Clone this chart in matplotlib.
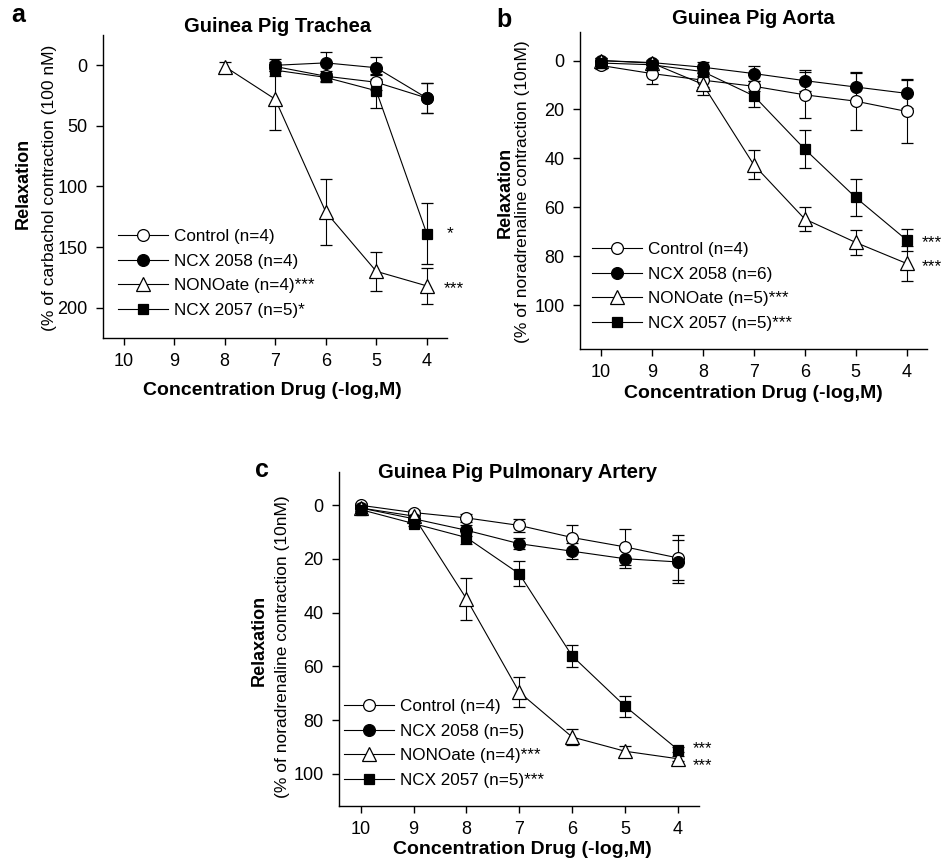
import matplotlib
matplotlib.use('Agg')
import matplotlib.pyplot as plt
from matplotlib.lines import Line2D

plt.rcParams['font.family'] = ['Liberation Sans', 'DejaVu Sans']

W, H = 943, 861

# ---------------- data ----------------
conc_all = [10, 9, 8, 7, 6, 5, 4]
xtick_labels = ['10', '9', '8', '7', '6', '5', '4']

# Panel a: Guinea Pig Trachea
a_x_control = [7, 6, 5, 4]
a_control = [1, 9, 14, 27]
a_control_err = [4, 4, 6, 12]
a_x_2058 = [7, 6, 5, 4]
a_2058 = [0, -2, 2, 27]
a_2058_err = [5, 9, 9, 12]
a_x_nono = [8, 7, 6, 5, 4]
a_nono = [1, 28, 121, 170, 182]
a_nono_err = [4, 25, 27, 16, 15]
a_x_2057 = [7, 6, 5, 4]
a_2057 = [4, 10, 21, 139]
a_2057_err = [5, 4, 14, 25]
a_labels = ['Control (n=4)', 'NCX 2058 (n=4)', 'NONOate (n=4)***', 'NCX 2057 (n=5)*']

# Panel b: Guinea Pig Aorta
b_control = [2, 5.3, 8, 10.5, 14, 16.6, 20.8]
b_control_err = [1.5, 4.4, 3, 2, 9.4, 12, 13]
b_2058 = [0, 0.8, 2.7, 5.3, 8.2, 10.8, 13.4]
b_2058_err = [1, 1, 2, 3, 4.2, 5.8, 6]
b_nono = [0, 1, 9.7, 42.6, 64.8, 74.4, 83]
b_nono_err = [1, 1, 4.5, 6, 5, 5, 7.3]
b_2057 = [1, 1.7, 4.5, 14.4, 36.2, 56, 73.4]
b_2057_err = [1, 1, 2, 4.7, 7.7, 7.5, 4.7]
b_labels = ['Control (n=4)', 'NCX 2058 (n=6)', 'NONOate (n=5)***', 'NCX 2057 (n=5)***']

# Panel c: Guinea Pig Pulmonary Artery
c_control = [0, 2.7, 4.7, 7.5, 12, 15.5, 19.6]
c_control_err = [1, 1, 1.5, 2.5, 4.8, 6.8, 8.4]
c_2058 = [1, 5, 9.3, 14.3, 17.1, 19.9, 21.1]
c_2058_err = [1, 1, 2, 2, 3, 3.5, 8]
c_nono = [1, 4, 34.8, 69.6, 86.3, 91.6, 94.4]
c_nono_err = [1, 1, 7.8, 5.5, 2.8, 2, 1]
c_2057 = [1.6, 6.8, 12, 25.5, 56.1, 74.8, 91]
c_2057_err = [1, 1, 2.5, 4.7, 4, 3.9, 1]
c_labels = ['Control (n=4)', 'NCX 2058 (n=5)', 'NONOate (n=4)***', 'NCX 2057 (n=5)***']

# ---------------- styles ----------------
styles = [
    dict(marker='o', mfc='white', mec='black', ms=8.5),
    dict(marker='o', mfc='black', mec='black', ms=8.5),
    dict(marker='^', mfc='white', mec='black', ms=9.5),
    dict(marker='s', mfc='black', mec='black', ms=7.5),
]

fig = plt.figure(figsize=(W / 100, H / 100), dpi=100)


def rect(l, t, r, b):
    return [l / W, 1 - b / H, (r - l) / W, (b - t) / H]


def fpos(x, y):
    return (x / W, 1 - y / H)


def draw(ax, series, labels, ylim, yticks, leg_xy):
    for (x, y, e), st in zip(series, styles):
        ax.errorbar(x, y, yerr=e, color='black', lw=0.8, elinewidth=0.8,
                    capsize=4.5, capthick=0.8, mew=0.9, zorder=3, **st)
    ax.set_xlim(10.41, 3.6)
    ax.set_ylim(ylim[1], ylim[0])
    ax.set_xticks(conc_all)
    ax.set_xticklabels(xtick_labels)
    ax.set_yticks(yticks)
    for s in ['top', 'right']:
        ax.spines[s].set_visible(False)
    for s in ['left', 'bottom']:
        ax.spines[s].set_linewidth(1.0)
    ax.tick_params(direction='out', length=5, width=1.0, labelsize=13, pad=6)
    handles = [Line2D([], [], color='black', lw=0.8, mew=0.9, **st) for st in styles]
    ax.legend(handles, labels, loc='upper left', bbox_to_anchor=fpos(*leg_xy),
              bbox_transform=fig.transFigure, frameon=False, fontsize=12.3,
              handlelength=2.9, handletextpad=0.35, labelspacing=0.56,
              borderpad=0, borderaxespad=0, numpoints=1)


# Panel a
ax_a = fig.add_axes(rect(103, 35, 447, 338))
draw(ax_a,
     [(a_x_control, a_control, a_control_err), (a_x_2058, a_2058, a_2058_err),
      (a_x_nono, a_nono, a_nono_err), (a_x_2057, a_2057, a_2057_err)],
     a_labels, (-25, 225), [0, 50, 100, 150, 200], (118, 229))
ax_a.annotate('*', (4, a_2057[-1]), xytext=(14, 0), textcoords='offset points',
              fontsize=12.5, va='center', ha='left', annotation_clip=False)
ax_a.annotate('***', (4, a_nono[-1]), xytext=(12, -2), textcoords='offset points',
              fontsize=12.5, va='center', ha='left', annotation_clip=False)

# Panel b
ax_b = fig.add_axes(rect(580, 32, 927, 349))
draw(ax_b,
     [(conc_all, b_control, b_control_err), (conc_all, b_2058, b_2058_err),
      (conc_all, b_nono, b_nono_err), (conc_all, b_2057, b_2057_err)],
     b_labels, (-11.7, 118), [0, 20, 40, 60, 80, 100], (592, 242))
ax_b.annotate('***', (4, b_2057[-1]), xytext=(11, -2), textcoords='offset points',
              fontsize=12.5, va='center', ha='left', annotation_clip=False)
ax_b.annotate('***', (4, b_nono[-1]), xytext=(11, -2), textcoords='offset points',
              fontsize=12.5, va='center', ha='left', annotation_clip=False)

# Panel c
ax_c = fig.add_axes(rect(339, 472, 699, 806))
draw(ax_c,
     [(conc_all, c_control, c_control_err), (conc_all, c_2058, c_2058_err),
      (conc_all, c_nono, c_nono_err), (conc_all, c_2057, c_2057_err)],
     c_labels, (-12.4, 112), [0, 20, 40, 60, 80, 100], (344, 699))
ax_c.annotate('***', (4, c_2057[-1]), xytext=(11, 1), textcoords='offset points',
              fontsize=12, va='center', ha='left', annotation_clip=False)
ax_c.annotate('***', (4, c_nono[-1]), xytext=(11, -5), textcoords='offset points',
              fontsize=12, va='center', ha='left', annotation_clip=False)

# ---------------- texts ----------------
def ftext(x, y, s, **kw):
    fig.text(x / W, 1 - y / H, s, **kw)

# titles
ftext(278, 26, 'Guinea Pig Trachea', fontsize=14.5, fontweight='bold', ha='center', va='center')
ftext(753, 19, 'Guinea Pig Aorta', fontsize=14.5, fontweight='bold', ha='center', va='center')
ftext(518, 472, 'Guinea Pig Pulmonary Artery', fontsize=14.5, fontweight='bold', ha='center', va='center')

# panel letters
ftext(18, 15, 'a', fontsize=18, fontweight='bold', ha='center', va='center')
ftext(504, 20, 'b', fontsize=18, fontweight='bold', ha='center', va='center')
ftext(262, 470, 'c', fontsize=18, fontweight='bold', ha='center', va='center')

# x labels
xl = 'Concentration Drug (-log,M)'
ftext(272, 390, xl, fontsize=14, fontweight='bold', ha='center', va='center')
ftext(753, 394, xl, fontsize=14, fontweight='bold', ha='center', va='center')
ftext(522, 849, xl, fontsize=14, fontweight='bold', ha='center', va='center')

# y labels
ftext(23, 183, 'Relaxation', fontsize=13, fontweight='bold', rotation=90, ha='center', va='center')
ftext(50, 188, '(% of carbachol contraction (100 nM)', fontsize=12.5, rotation=90, ha='center', va='center')
ftext(505, 192, 'Relaxation', fontsize=13, fontweight='bold', rotation=90, ha='center', va='center')
ftext(522, 192, '(% of noradrenaline contraction (10nM)', fontsize=12.5, rotation=90, ha='center', va='center')
ftext(259, 640, 'Relaxation', fontsize=13, fontweight='bold', rotation=90, ha='center', va='center')
ftext(283, 647, '(% of noradrenaline contraction (10nM)', fontsize=12.5, rotation=90, ha='center', va='center')

fig.savefig('out.png', dpi=100)
